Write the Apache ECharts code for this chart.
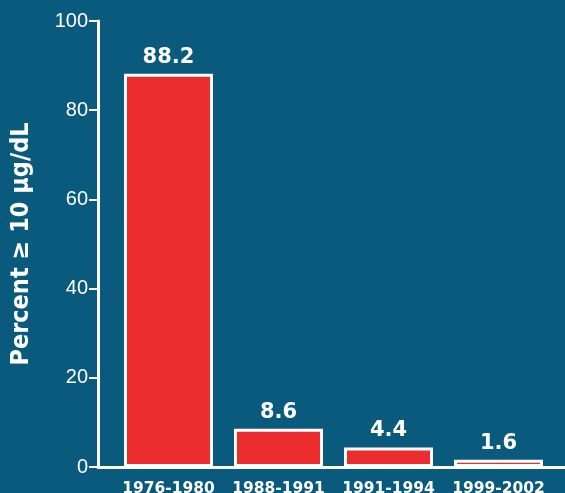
<!DOCTYPE html>
<html><head><meta charset="utf-8">
<script src="https://cdn.jsdelivr.net/npm/echarts@6/dist/echarts.min.js"></script>
<style>html,body{margin:0;padding:0;background:#0a5a7e}#c{width:565px;height:493px}</style>
</head><body><div id="c"></div>
<script>
const categories = ['1976-1980', '1988-1991', '1991-1994', '1999-2002'];
const percentValues = [88.2, 8.6, 4.4, 1.6];
const yTicks = [0, 20, 40, 60, 80, 100];

const chart = echarts.init(document.getElementById('c'));
const white = '#ffffff';
chart.setOption({
  backgroundColor: '#0a5a7e',
  animation: false,
  grid: [
    { left: 113.5, right: 11.5, top: 21, bottom: 26, outerBoundsMode: 'none', containLabel: false },
    { left: 98, right: 0, top: 21, bottom: 26, outerBoundsMode: 'none', containLabel: false }
  ],
  xAxis: [
    {
      type: 'category', gridIndex: 0, data: categories,
      axisLine: { show: false }, axisTick: { show: false },
      axisLabel: { interval: 0, hideOverlap: false, color: white, fontFamily: 'DejaVu Sans', fontWeight: 'bold', fontSize: 15.5, margin: 14 }
    },
    {
      type: 'category', gridIndex: 1, data: [''],
      axisLine: { show: true, lineStyle: { color: white, width: 3 } },
      axisTick: { show: false }, axisLabel: { show: false }
    }
  ],
  yAxis: [
    {
      type: 'value', gridIndex: 0, min: 0, max: 100, interval: 20, offset: 15.5,
      name: 'Percent \u2265 10 \u00b5g/dL', nameLocation: 'middle', nameGap: 64,
      nameTextStyle: { color: white, fontFamily: "'DejaVu Sans Condensed', Roboto, sans-serif", fontWeight: 'bold', fontSize: 25 },
      axisLine: { show: true, lineStyle: { color: white, width: 3 } },
      axisTick: { show: true, length: 9, lineStyle: { color: white, width: 2 } },
      axisLabel: { color: white, fontFamily: "'Liberation Sans'", fontSize: 20, margin: 10,
        formatter: v => yTicks.includes(v) ? String(v) : '' },
      splitLine: { show: false }
    },
    {
      type: 'value', gridIndex: 1, min: 0, max: 100, show: false
    }
  ],
  series: [{
    type: 'bar', xAxisIndex: 0, yAxisIndex: 0,
    data: percentValues,
    barWidth: 89,
    itemStyle: { color: '#ec2d30', borderColor: white, borderWidth: 3 },
    label: { show: true, position: 'top', distance: 6, color: white,
      fontFamily: 'DejaVu Sans', fontWeight: 'bold', fontSize: 21 }
  }]
});
</script></body></html>
